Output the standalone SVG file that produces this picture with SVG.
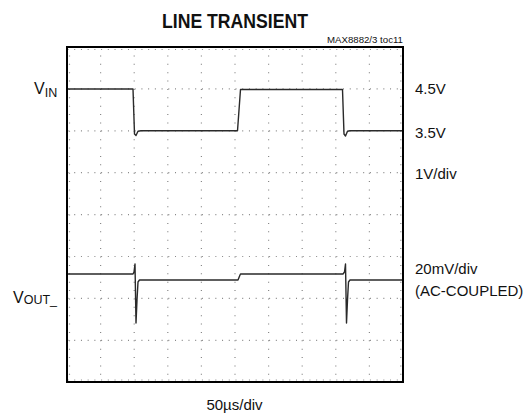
<svg xmlns="http://www.w3.org/2000/svg" width="523" height="418" viewBox="0 0 523 418">
<style>
.t{font-family:"Liberation Sans",Arial,sans-serif;fill:#111}
.gh{stroke:#888;stroke-width:1.2;stroke-dasharray:1 5.72;fill:none}
.gv{stroke:#888;stroke-width:1.2;stroke-dasharray:1 7.38;fill:none}
.tr{stroke:#2a2a2a;stroke-width:1.4;fill:none;stroke-linejoin:round}
</style>
<rect width="523" height="418" fill="#fff"/>
<g id="title">
<text class="t" x="162" y="28" font-size="21" font-weight="bold" textLength="146" lengthAdjust="spacingAndGlyphs">LINE TRANSIENT</text>
<text class="t" x="403" y="43" font-size="9.5" text-anchor="end" textLength="76" lengthAdjust="spacingAndGlyphs">MAX8882/3 toc11</text>
</g>
<g id="grid">
<path class="gh" d="M67.5,88.9H403M67.5,130.8H403M67.5,172.7H403M67.5,214.6H403M67.5,256.5H403M67.5,298.4H403M67.5,340.3H403"/>
<path class="gv" d="M100.6,47V382M134.2,47V382M167.8,47V382M201.4,47V382M235,47V382M268.6,47V382M302.2,47V382M335.8,47V382M369.4,47V382"/>
<path class="gh" d="M67.5,49.5H403M67.5,380H403"/>
<path class="gv" d="M69.5,47V382M400.8,47V382"/>
</g>
<g id="frame">
<rect x="67" y="47" width="336" height="335" fill="none" stroke="#000" stroke-width="2"/>
</g>
<g id="traces">
<path id="vin" class="tr" d="M68,89 L133,89 L134.5,134 L136,135.5 L138,131.2 L141,130.7 L237.5,130.7 L240.5,89.5 L342.5,89.5 L344,134 L345.5,136 L347.5,131.2 L350,130.7 L402,130.7"/>
<path id="vout" class="tr" d="M68,274 L133,274 L134,272 L135,264 L136,323 L137,300 L138,282 L139.5,280 L238,280 L240,275 L240.5,274 L343,274 L344.5,272 L345.5,264 L346.5,323 L347.5,300 L348.5,282 L350,280 L402,280"/>
</g>
<g id="labels">
<text class="t" x="34" y="93.5" font-size="16">V<tspan font-size="12.5" dy="3.5">IN</tspan></text>
<text class="t" x="13" y="303" font-size="16">V<tspan font-size="12.5" dy="1">OUT_</tspan></text>
<text class="t" x="415" y="94" font-size="15">4.5V</text>
<text class="t" x="415" y="138" font-size="15">3.5V</text>
<text class="t" x="415" y="179" font-size="15">1V/div</text>
<text class="t" x="415" y="274" font-size="15">20mV/div</text>
<text class="t" x="415" y="296" font-size="15">(AC-COUPLED)</text>
<text class="t" x="234.5" y="410" font-size="15" text-anchor="middle">50µs/div</text>
</g>
</svg>
